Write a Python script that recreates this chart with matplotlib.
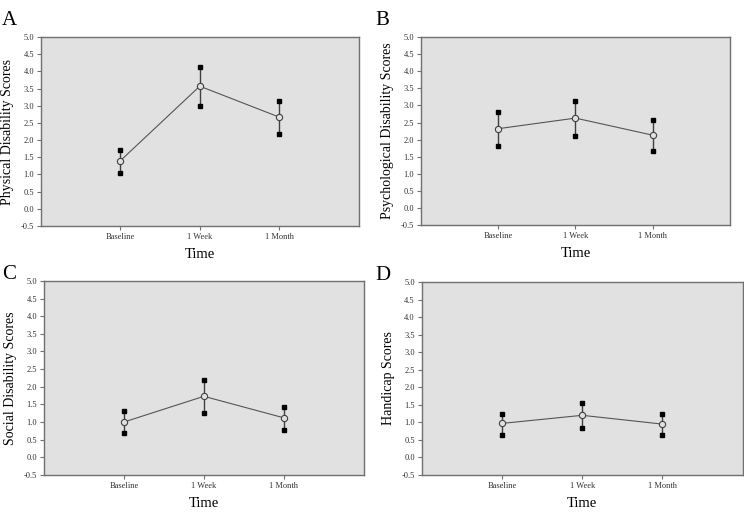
import matplotlib
matplotlib.use("Agg")
import matplotlib.pyplot as plt

plt.rcParams['font.family'] = ['Liberation Serif', 'DejaVu Serif']

times = ["Baseline", "1 Week", "1 Month"]

phys_mean = [1.40, 3.57, 2.67]
phys_hi = [1.72, 4.12, 3.15]
phys_lo = [1.05, 3.00, 2.17]

psych_mean = [2.32, 2.63, 2.13]
psych_hi = [2.80, 3.13, 2.58]
psych_lo = [1.82, 2.12, 1.67]

social_mean = [1.00, 1.73, 1.12]
social_hi = [1.30, 2.18, 1.44]
social_lo = [0.70, 1.27, 0.78]

handi_mean = [0.97, 1.20, 0.95]
handi_hi = [1.25, 1.55, 1.25]
handi_lo = [0.65, 0.83, 0.63]

panels = [
    ("A", "Physical Disability Scores", phys_mean, phys_hi, phys_lo, [0.055, 0.5586, 0.427, 0.369]),
    ("B", "Psychological Disability Scores", psych_mean, psych_hi, psych_lo, [0.566, 0.5605, 0.415, 0.367]),
    ("C", "Social Disability Scores", social_mean, social_hi, social_lo, [0.059, 0.0723, 0.430, 0.379]),
    ("D", "Handicap Scores", handi_mean, handi_hi, handi_lo, [0.567, 0.0723, 0.431, 0.377]),
]

fig = plt.figure(figsize=(7.44, 5.12), dpi=100)
letter_pos = {"A": (0.003, 0.978), "B": (0.505, 0.978), "C": (0.003, 0.482), "D": (0.505, 0.48)}

for letter, ylab, mean, hi, lo, rect in panels:
    ax = fig.add_axes(rect)
    ax.set_facecolor("#e1e1e1")
    x = [1, 2, 3]
    for xi, h, l in zip(x, hi, lo):
        ax.plot([xi, xi], [l, h], color="#404040", lw=1.0, zorder=2)
    ax.plot(x, hi, ls="none", marker="s", ms=3.2, color="black", zorder=3)
    ax.plot(x, lo, ls="none", marker="s", ms=3.2, color="black", zorder=3)
    ax.plot(x, mean, color="#555555", lw=0.8, marker="o", ms=4.5,
            mfc="#e1e1e1", mec="#404040", mew=0.8, zorder=4)
    ax.set_xlim(0, 4)
    ax.set_ylim(-0.5, 5.0)
    ax.set_xticks(x)
    ax.set_xticklabels(times, fontsize=6)
    ax.set_yticks([-0.5, 0, 0.5, 1, 1.5, 2, 2.5, 3, 3.5, 4, 4.5, 5])
    ax.set_yticklabels(["%.1f" % v for v in ax.get_yticks()], fontsize=6)
    ax.tick_params(length=3, width=0.8, color="#707070", pad=2, labelcolor="#303030")
    for s in ax.spines.values():
        s.set_color("#707070")
        s.set_linewidth(1.0)
    ax.set_xlabel("Time", fontsize=10.5, labelpad=5)
    ax.set_ylabel(ylab, fontsize=10, labelpad=5)
    fig.text(letter_pos[letter][0], letter_pos[letter][1], letter, fontsize=15,
             va="top", ha="left")

fig.savefig("out.png", dpi=100)
